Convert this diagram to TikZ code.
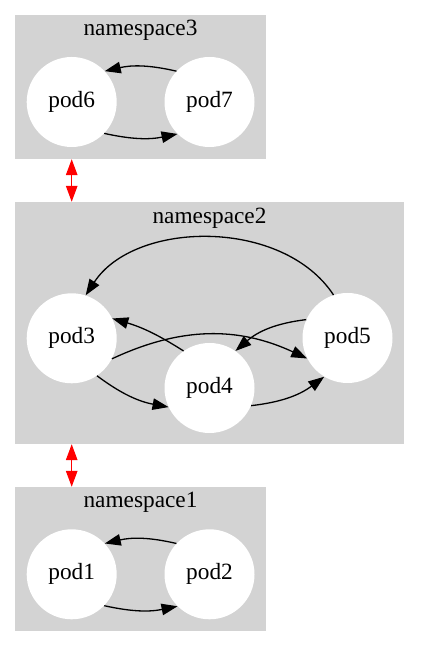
\documentclass[tikz,border=0pt]{standalone}
\usepackage{fontspec}
\setmainfont{Liberation Serif}
\usetikzlibrary{arrows.meta}
\definecolor{lightgrey}{HTML}{D3D3D3}
\begin{document}
\begin{tikzpicture}[x=1pt,y=1pt,
  cluster/.style={fill=lightgrey, draw=none, inner sep=0pt},
  pod/.style={circle, fill=white, draw=none, minimum size=90pt, inner sep=0pt, font=\fontsize{23.3}{28}\selectfont},
  lbl/.style={font=\fontsize{23.3}{28}\selectfont, anchor=base, inner sep=0pt},
  edge/.style={line width=1.3pt, -{Triangle[length=16pt,width=11.5pt]}},
  link/.style={draw=red, line width=1.3pt, {Triangle[length=16pt,width=11.5pt,fill=red]}-{Triangle[length=16pt,width=11.5pt,fill=red]}}]
\useasboundingbox (0,0) rectangle (420,647);
\fill[white] (0,0) rectangle (420,647);
% clusters
\node[cluster, minimum width=251pt, minimum height=144pt] (ns3) at (140.5,560) {};
\node[cluster, minimum width=389pt, minimum height=242pt] (ns2) at (209.5,324) {};
\node[cluster, minimum width=251pt, minimum height=144pt] (ns1) at (140.5,88) {};
\node[lbl] (ns3lbl) at (140.5,611) {namespace3};
\node[lbl] (ns2lbl) at (209.5,423.5) {namespace2};
\node[lbl] (ns1lbl) at (140.5,139.5) {namespace1};
% pods
\node[pod] (pod6) at (71.7,545) {pod6};
\node[pod] (pod7) at (209.5,545) {pod7};
\node[pod] (pod3) at (71.7,308.7) {pod3};
\node[pod] (pod4) at (209.5,259) {pod4};
\node[pod] (pod5) at (347.5,309) {pod5};
\node[pod] (pod1) at (71.7,72.7) {pod1};
\node[pod] (pod2) at (209.5,72.7) {pod2};
% namespace3 edges
\draw[edge] (pod7.137) to[bend right=13] (pod6.43);
\draw[edge] (pod6.-44) to[bend right=12] (pod7.-135);
% namespace1 edges
\draw[edge] (pod2.137) to[bend right=13] (pod1.43);
\draw[edge] (pod1.-44) to[bend right=12] (pod2.-135);
% namespace2 edges
\draw[edge] (pod5.108) .. controls (283,429) and (135,427) .. (pod3.72);
\draw[edge] (pod4.125) to[bend right=8] (pod3.26);
\draw[edge] (pod3.-27) to[bend left=25] (pod5.207);
\draw[edge] (pod5.156) to[bend right=17] (pod4.55);
\draw[edge] (pod3.-56) to[bend right=13] (pod4.205);
\draw[edge] (pod4.-23) to[bend right=15] (pod5.239);
% inter-namespace links
\draw[link] (ns3.south -| pod6) -- (ns2.north -| pod6);
\draw[link] (ns2.south -| pod1) -- (ns1.north -| pod1);
\end{tikzpicture}
\end{document}
